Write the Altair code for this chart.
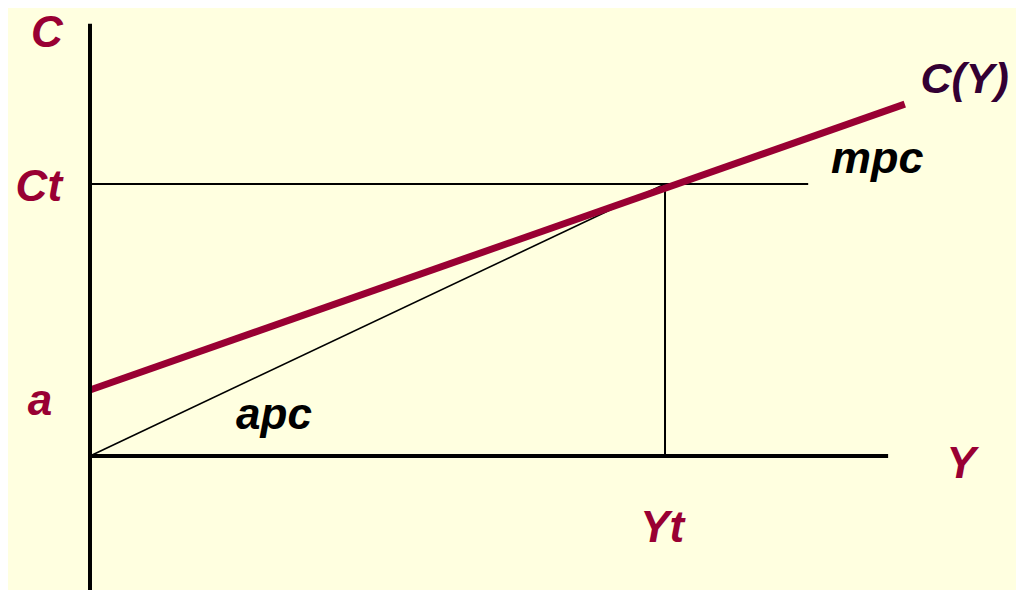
import altair as alt
import pandas as pd

# ---- model values (in chart units) ----
Yt = 10.0          # income level Yt
Ct = 8.0           # consumption level Ct
a_val = 1.94       # autonomous consumption a
Y_line_end = 14.17 # where C(Y) is drawn to
C_line_end = 10.35 # C at the end of C(Y)
Y_axis_end = 13.88
C_axis_top = 12.71
Ct_guide_end = 12.49

X_DOMAIN = [-1.426, 16.104]
Y_DOMAIN = [-3.941, 13.176]

# labels
label_text = ["C", "Ct", "a", "Y", "Yt", "C(Y)", "mpc", "apc"]
label_x = [-0.75, -0.89, -0.87, 15.15, 9.95, 15.21, 13.69, 3.2]
label_y = [12.03, 7.51, 1.21, -0.65, -2.53, 10.68, 8.32, 0.79]
label_size = [44, 44, 44, 44, 44, 43, 45, 44]
label_color = ["#990033", "#990033", "#990033", "#990033", "#990033", "#330033", "#000000", "#000000"]

xs = alt.Scale(domain=X_DOMAIN, nice=False, zero=False)
ys = alt.Scale(domain=Y_DOMAIN, nice=False, zero=False)

axes_df = pd.DataFrame({
    "x": [0.0, 0.0], "x2": [0.0, Y_axis_end],
    "y": [Y_DOMAIN[0], 0.0], "y2": [C_axis_top, 0.0],
})
guides_df = pd.DataFrame({
    "x": [0.0, Yt], "x2": [Ct_guide_end, Yt],
    "y": [Ct, 0.0], "y2": [Ct, Ct],
})
diag_df = pd.DataFrame({"x": [0.0], "x2": [Yt], "y": [0.0], "y2": [Ct]})
cy_df = pd.DataFrame({"Y": [0.0, Y_line_end], "C": [a_val, C_line_end]})
lab_df = pd.DataFrame({"t": label_text, "x": label_x, "y": label_y,
                       "c": label_color, "s": label_size})


def rule_layer(df, w):
    return alt.Chart(df).mark_rule(color="black", strokeWidth=w, strokeCap="butt").encode(
        x=alt.X("x:Q", scale=xs, axis=None),
        x2="x2:Q",
        y=alt.Y("y:Q", scale=ys, axis=None),
        y2="y2:Q",
    )


axes = rule_layer(axes_df, 4)
guides = rule_layer(guides_df, 2)
diag = rule_layer(diag_df, 1.6)

cy = alt.Chart(cy_df).mark_line(color="#990033", strokeWidth=7, strokeCap="butt").encode(
    x=alt.X("Y:Q", scale=xs, axis=None),
    y=alt.Y("C:Q", scale=ys, axis=None),
)

labels = alt.Chart(lab_df).mark_text(
    font="Liberation Sans", fontWeight="bold", fontStyle="italic",
    align="center", baseline="alphabetic",
).encode(
    x=alt.X("x:Q", scale=xs, axis=None),
    y=alt.Y("y:Q", scale=ys, axis=None),
    text="t:N",
    color=alt.Color("c:N", scale=None),
    size=alt.Size("s:Q", scale=None, legend=None),
)

chart = alt.layer(guides, diag, cy, axes, labels).properties(
    width=1008, height=582, background="#FFFFE0", padding=0,
    autosize=alt.AutoSizeParams(type="none"),
).configure_view(stroke=None)

chart.save("out.html", embed_options={"renderer": "svg", "actions": False})
